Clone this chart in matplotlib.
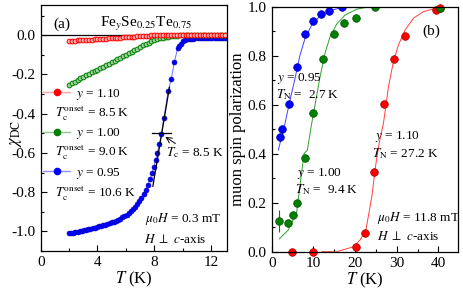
import numpy as np
import matplotlib
matplotlib.use('Agg')
import matplotlib.pyplot as plt
from matplotlib.lines import Line2D
from matplotlib.ticker import MultipleLocator

plt.rcParams['font.family'] = ['Liberation Serif', 'DejaVu Serif']
plt.rcParams['mathtext.fontset'] = 'stix'
plt.rcParams['axes.unicode_minus'] = False

# ---- panel (a): DC susceptibility ----
T_dc = [2.0, 2.2, 2.4, 2.6, 2.8, 3.0, 3.2, 3.4, 3.6, 3.8, 4.0, 4.2, 4.4, 4.6, 4.8,
        5.0, 5.2, 5.4, 5.6, 5.8, 6.0, 6.2, 6.4, 6.6, 6.8, 7.0, 7.2, 7.4, 7.6, 7.8,
        8.0, 8.2, 8.4, 8.6, 8.8, 9.0, 9.2, 9.4, 9.6, 9.8, 10.0, 10.2, 10.4, 10.6,
        10.8, 11.0, 11.2, 11.4, 11.6, 11.8, 12.0, 12.2, 12.4, 12.6, 12.8, 13.0]
chi_110 = [-0.029, -0.028, -0.027, -0.026, -0.025, -0.024, -0.024, -0.023, -0.022,
           -0.021, -0.020, -0.019, -0.018, -0.017, -0.016, -0.015, -0.014, -0.013,
           -0.012, -0.011, -0.010, -0.009, -0.008, -0.007, -0.006, -0.005, -0.004,
           -0.003, -0.002, -0.001, 0.000, 0.001, 0.001, 0.002, 0.002, 0.002, 0.002,
           0.002, 0.003, 0.003, 0.003, 0.003, 0.003, 0.003, 0.003, 0.003, 0.003,
           0.003, 0.003, 0.003, 0.003, 0.003, 0.003, 0.003, 0.003, 0.003]
chi_100 = [-0.256, -0.245, -0.236, -0.228, -0.220, -0.213, -0.205, -0.198, -0.190,
           -0.183, -0.175, -0.168, -0.160, -0.153, -0.145, -0.138, -0.130, -0.122,
           -0.115, -0.107, -0.099, -0.091, -0.083, -0.075, -0.068, -0.060, -0.052,
           -0.045, -0.038, -0.032, -0.026, -0.021, -0.016, -0.012, -0.009, -0.007,
           -0.005, -0.003, -0.002, -0.001, 0.000, 0.000, 0.000, 0.000, 0.001, 0.001,
           0.001, 0.001, 0.001, 0.001, 0.001, 0.001, 0.001, 0.001, 0.001, 0.001]
T_095 = [2.0, 2.15, 2.3, 2.45, 2.6, 2.75, 2.9, 3.05, 3.2, 3.35, 3.5, 3.65, 3.8, 3.95,
         4.1, 4.25, 4.4, 4.55, 4.7, 4.85, 5.0, 5.15, 5.3, 5.45, 5.6, 5.75, 5.9, 6.05,
         6.2, 6.35, 6.5, 6.65, 6.8, 6.95, 7.1, 7.25, 7.4, 7.55, 7.7, 7.85, 7.98, 8.1,
         8.22, 8.35, 8.5, 8.68, 8.98, 9.2, 9.42, 9.65, 9.76, 9.86, 10.0, 10.15, 10.3,
         10.45, 10.6, 10.75, 10.9, 11.05, 11.2, 11.35, 11.5, 11.65, 11.8, 11.95, 12.1,
         12.25, 12.4, 12.55, 12.7, 12.85, 13.0]
chi_095 = [-1.010, -1.008, -1.006, -1.004, -1.001, -0.999, -0.997, -0.995, -0.992,
           -0.990, -0.987, -0.984, -0.981, -0.978, -0.975, -0.972, -0.969, -0.966,
           -0.962, -0.958, -0.954, -0.950, -0.945, -0.940, -0.935, -0.929, -0.922,
           -0.915, -0.907, -0.898, -0.888, -0.876, -0.862, -0.846, -0.828, -0.808,
           -0.787, -0.763, -0.735, -0.704, -0.672, -0.635, -0.598, -0.556, -0.505,
           -0.420, -0.285, -0.222, -0.135, -0.066, -0.054, -0.044, -0.028, -0.022,
           -0.019, -0.018, -0.017, -0.017, -0.016, -0.016, -0.016, -0.015, -0.015,
           -0.015, -0.015, -0.015, -0.015, -0.014, -0.014, -0.014, -0.014, -0.014,
           -0.014]
# Tc construction (linear fit and mid-point marker)
fit_T = [7.9, 9.07]
fit_chi = [-0.77, -0.265]
mid_T = [7.85, 9.15]
mid_chi = [-0.5, -0.5]

# ---- panel (b): muon spin polarization ----
T_mu_095 = [2.0, 2.55, 4.07, 6.0, 8.0, 9.83, 11.83, 13.8, 16.8]
P_095 = [0.469, 0.50, 0.602, 0.755, 0.887, 0.942, 0.969, 0.982, 0.997]
T_mu_100 = [1.83, 4.0, 5.03, 6.0, 8.0, 10.0, 12.4, 14.95, 17.35, 20.15, 24.8, 40.4]
P_100 = [0.127, 0.116, 0.149, 0.198, 0.384, 0.567, 0.787, 0.89, 0.935, 0.955, 0.998, 0.993]
err_100 = [0.045, 0, 0, 0, 0, 0, 0, 0, 0, 0, 0, 0]
T_mu_110 = [4.8, 9.84, 20.2, 22.4, 24.6, 27.0, 29.4, 32.0, 39.4, 40.4]
P_110 = [0.0, 0.0, 0.02, 0.078, 0.324, 0.603, 0.787, 0.88, 0.987, 0.993]

fitT_095 = [1.6, 2.4, 3.2, 4.4, 5.6, 6.8, 8.0, 9.6, 11.6, 14.0, 17.2, 20.0, 25.0]
fitP_095 = [0.415, 0.47, 0.524, 0.619, 0.708, 0.803, 0.871, 0.925, 0.962, 0.984, 0.998, 1.0, 1.0]
fitT_100 = [1.83, 4.0, 6.0, 7.75, 8.55, 9.6, 10.6, 11.6, 12.8, 14.0, 15.6, 17.6, 20.4, 23.6, 30.0]
fitP_100 = [0.052, 0.089, 0.163, 0.40, 0.415, 0.524, 0.619, 0.714, 0.81, 0.878, 0.929, 0.966, 0.99, 1.0, 1.0]
fitT_110 = [12.0, 15.6, 19.6, 21.2, 22.6, 24.0, 25.0, 25.8, 26.8, 28.0, 29.2, 30.4, 32.0, 34.0, 36.4, 39.2, 41.0]
fitP_110 = [0.0, 0.0, 0.02, 0.048, 0.089, 0.224, 0.36, 0.445, 0.524, 0.673, 0.776, 0.844, 0.905, 0.953, 0.98, 0.993, 0.997]

red, green, blue = '#ff0000', '#008000', '#0000ff'

fig = plt.figure(figsize=(4.63, 2.93), dpi=100)
ax1 = fig.add_axes([0.0879, 0.1433, 0.4017, 0.8396])
ax2 = fig.add_axes([0.5868, 0.141, 0.4017, 0.8362])

for ax in (ax1, ax2):
    ax.tick_params(which='both', direction='in', labelsize=11, width=0.8)
    ax.tick_params(which='major', length=4)
    ax.tick_params(which='minor', length=2)
    for s in ax.spines.values():
        s.set_linewidth(0.9)

# (a)
ax1.axhline(0, color='k', lw=0.9)
ax1.plot(T_095, chi_095, '-o', color='#7070ff', lw=0.7, ms=3.6,
         mfc=blue, mec='#0000c0', mew=0.4)
ax1.plot(T_dc, chi_100, 'o', ms=3.4, mfc='#a0d0a0', mec=green, mew=0.7)
ax1.plot(T_dc, chi_110, 'o', ms=3.4, mfc='#ffb0b0', mec=red, mew=0.7)
ax1.plot(fit_T, fit_chi, 'k-', lw=0.9)
ax1.plot(mid_T, mid_chi, 'k-', lw=0.9)
ax1.annotate('', xy=(8.62, -0.51), xytext=(9.65, -0.56),
             arrowprops=dict(arrowstyle='->', lw=0.7, color='k'))
ax1.text(8.82, -0.6, r'$T_{\rm c}$ = 8.5 K', fontsize=9.5, va='center')

ax1.set_xlim(0, 13.1)
ax1.set_ylim(-1.1, 0.154)
ax1.xaxis.set_major_locator(MultipleLocator(4))
ax1.xaxis.set_minor_locator(MultipleLocator(2))
ax1.yaxis.set_major_locator(MultipleLocator(0.2))
ax1.yaxis.set_minor_locator(MultipleLocator(0.1))
ax1.yaxis.set_major_formatter(matplotlib.ticker.FormatStrFormatter('%.1f'))
ax1.set_xlabel(r'$T$ (K)', fontsize=12, labelpad=1)
ax1.set_ylabel(r'$\chi_{\rm DC}$', fontsize=12)
ax1.yaxis.set_label_coords(-0.09, 0.478)

ax1.text(0.87, 0.056, '(a)', fontsize=11, va='center')
ax1.text(4.2, 0.056, r'Fe$_y$Se$_{0.25}$Te$_{0.75}$', fontsize=11, va='center')

handles = [Line2D([], [], color='#ffa0a0', lw=1, marker='o', ms=4.5, mfc=red, mec=red),
           Line2D([], [], color='#90c890', lw=1, marker='o', ms=4.5, mfc=green, mec=green),
           Line2D([], [], color='#9090ff', lw=1, marker='o', ms=4.5, mfc=blue, mec=blue)]
labels = [r'$y$ = 1.10', r'$y$ = 1.00', r'$y$ = 0.95']
ax1.legend(handles, labels, loc='upper left', bbox_to_anchor=(0.015, 0.667),
           frameon=False, fontsize=9.5, numpoints=1, handlelength=2.0,
           handletextpad=0.45, labelspacing=1.85, borderpad=0, borderaxespad=0)
onset = ['8.5', '9.0', '10.6']
for yy, v in zip([0.561, 0.402, 0.236], onset):
    ax1.text(0.077, yy, r'$T_{\rm c}^{\rm onset}$ = ' + v + ' K', transform=ax1.transAxes,
             fontsize=9.5, va='center')
ax1.text(7.37, -0.935, r'$\mu_0H$ = 0.3 mT', fontsize=9.5, va='center')
ax1.text(7.25, -1.04, r'$H$ $\perp$ $c$-axis', fontsize=9.5, va='center')

# (b)
ax2.plot(fitT_095, fitP_095, '-', color='#4040ff', lw=0.7)
ax2.plot(fitT_100, fitP_100, '-', color='#30a030', lw=0.7)
ax2.plot(fitT_110, fitP_110, '-', color='#ff4040', lw=0.7)
ax2.plot(T_mu_095, P_095, 'o', ms=5.5, mfc=blue, mec='#0000a0', mew=0.5)
ax2.errorbar(T_mu_100, P_100, yerr=err_100, fmt='o', ms=5.5, mfc=green,
             mec='#005000', mew=0.5, ecolor=green, elinewidth=0.8, capsize=0)
ax2.plot(T_mu_110, P_110, 'o', ms=5.5, mfc=red, mec='#a00000', mew=0.5, clip_on=False)

ax2.set_xlim(0, 44.6)
ax2.set_ylim(0, 1.0)
ax2.xaxis.set_major_locator(MultipleLocator(10))
ax2.xaxis.set_minor_locator(MultipleLocator(5))
ax2.yaxis.set_major_locator(MultipleLocator(0.2))
ax2.yaxis.set_minor_locator(MultipleLocator(0.1))
ax2.yaxis.set_major_formatter(matplotlib.ticker.FormatStrFormatter('%.1f'))
ax2.set_xlabel(r'$T$ (K)', fontsize=12, labelpad=1)
ax2.set_ylabel('muon spin polarization', fontsize=12, labelpad=1)

ax2.text(38.3, 0.898, '(b)', fontsize=11, ha='center', va='center')
ax2.text(1.2, 0.705, r'$y$ = 0.95', fontsize=9.5, va='center')
ax2.text(1.0, 0.64, r'$T_{\rm N}$ =  2.7 K', fontsize=9.5, va='center')
ax2.text(6.0, 0.32, r'$y$ = 1.00', fontsize=9.5, va='center')
ax2.text(5.6, 0.252, r'$T_{\rm N}$ =  9.4 K', fontsize=9.5, va='center')
ax2.text(24.8, 0.472, r'$y$ = 1.10', fontsize=9.5, va='center')
ax2.text(24.0, 0.40, r'$T_{\rm N}$ = 27.2 K', fontsize=9.5, va='center')
ax2.text(25.2, 0.136, r'$\mu_0H$ = 11.8 mT', fontsize=9.5, va='center')
ax2.text(25.2, 0.061, r'$H$ $\perp$ $c$-axis', fontsize=9.5, va='center')

fig.savefig('out.png', dpi=100)
